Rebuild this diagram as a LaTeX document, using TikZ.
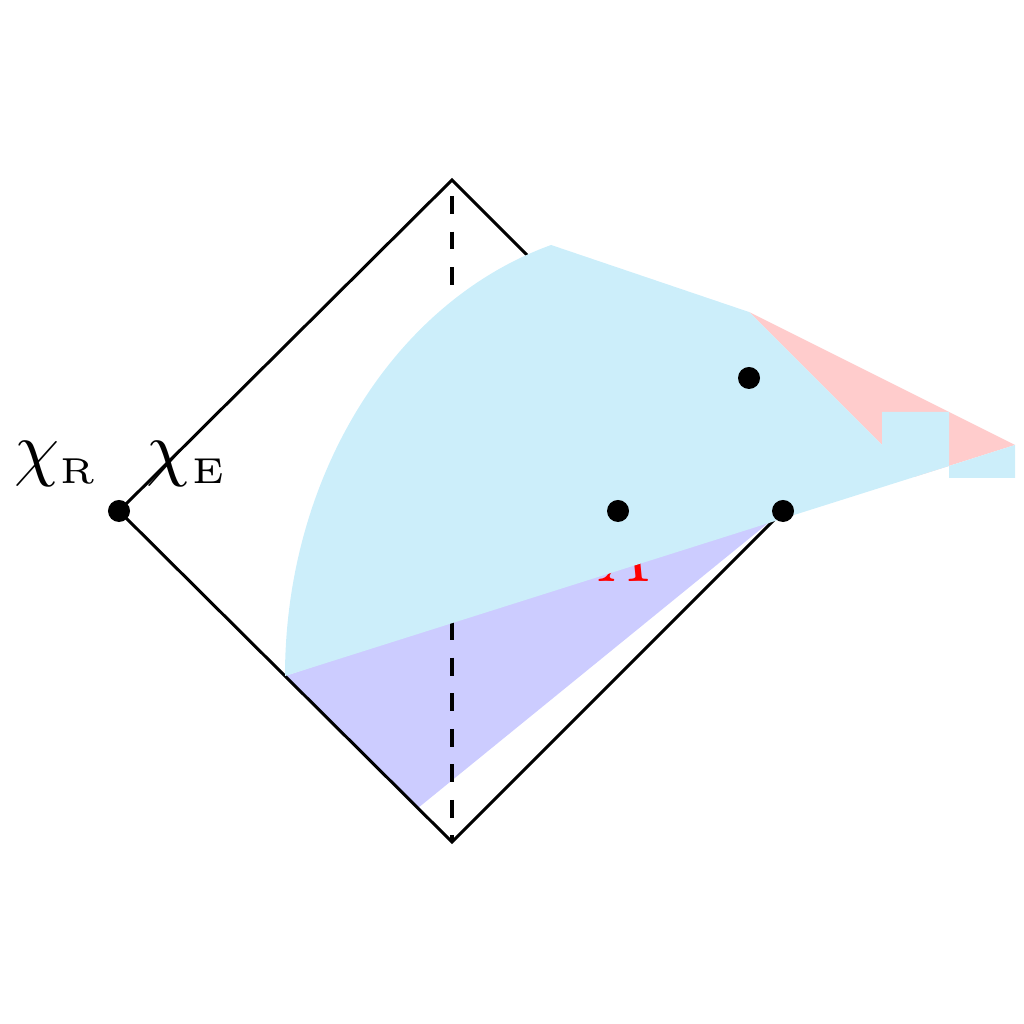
\documentclass[tikz,border=0pt]{standalone}
\usepackage{xcolor}
\usepackage{graphicx}
\definecolor{lblue}{RGB}{204,238,250}
\definecolor{lred}{RGB}{255,204,204}
\definecolor{lpurple}{RGB}{204,204,255}
\begin{document}
\begin{tikzpicture}[x=0.01cm,y=0.01cm,
  edge/.style={line width=0.85pt, line join=miter},
  axisline/.style={line width=1pt, dash pattern=on 5.1pt off 5pt, dash phase=5.55pt},
  dot/.style={circle, fill=black, inner sep=0pt, minimum size=0.22cm},
  lbl/.style={inner sep=0pt, anchor=base west}]
\useasboundingbox (0,0) rectangle (1024,1024);
% vertices
\coordinate (T) at (452,844);
\coordinate (B) at (452,182);
\coordinate (Lc) at (119,513);
\coordinate (Qc) at (783,513);
% purple region
\fill[lpurple] (285,348) -- (418,216) -- (Qc) -- cycle;
% hidden red label
\node[lbl, red] (A) at (596,442) {\scalebox{2.05}{$A$}};
% labels
\node[lbl] (chiR) at (14,551) {\scalebox{2.05}{$\chi_{\scriptscriptstyle\mathrm{R}}$}};
\node[lbl] (chiE) at (146,551) {\scalebox{2.05}{$\chi_{\scriptscriptstyle\mathrm{E}}$}};
% diamond and dashed axis
\draw[edge] (Lc) -- (T) -- (Qc) -- (B) -- cycle;
\draw[axisline] (T) -- (B);
% red region
\fill[lred] (749,712) -- (1015,579) -- (914,547) -- cycle;
% blue region
\fill[lblue] (285,348) arc[start angle=180, end angle=106.7, x radius=373.4, y radius=450]
  -- (749,712) -- (882,579) -- (882,612) -- (949,612) -- (949,558) -- cycle;
\fill[lblue] (949,558) -- (1015,579) -- (1015,546) -- (949,546) -- cycle;
% dots
\node[dot] (L) at (Lc) {};
\node[dot] (Q) at (Qc) {};
\node[dot] (P) at (618,513) {};
\node[dot] (S) at (749,646) {};
\end{tikzpicture}
\end{document}
